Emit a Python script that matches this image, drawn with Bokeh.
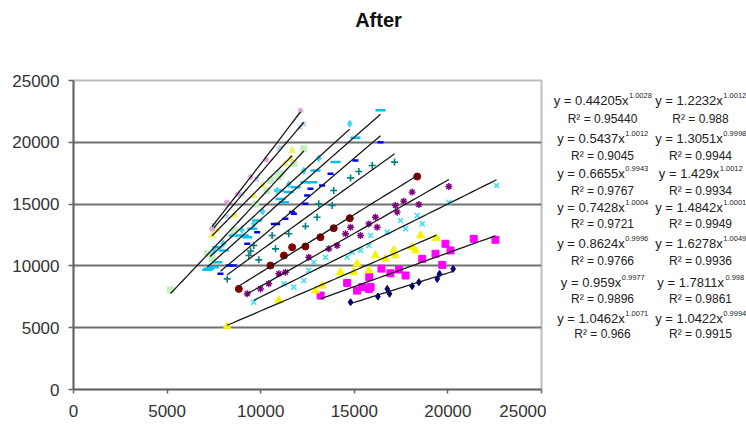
import numpy as np
from bokeh.plotting import figure
from bokeh.models import FixedTicker, Range1d
from bokeh.layouts import row, column
from bokeh.core.properties import value
from bokeh.embed import file_html
from bokeh.resources import INLINE

# ---------------- data ----------------
axis_ticks = [0, 5000, 10000, 15000, 20000, 25000]
grid_ticks = [5000, 10000, 15000, 20000]

s1_x = [14800, 16260, 16760, 16880, 18090, 18450, 19430, 19550, 20280]
s1_y = [7060, 7520, 8140, 7740, 8360, 8680, 8950, 9360, 9760]

s2_x = [13200, 14620, 15150, 15420, 15780, 15870, 15800, 16450, 16930, 17380, 17740, 18630, 19340, 19700, 19870, 20140, 21380, 22540]
s2_y = [7600, 8620, 8000, 8280, 8140, 8300, 9090, 9780, 9400, 9700, 9220, 10570, 10980, 10080, 11790, 11250, 12190, 12110]

s3_x = [8210, 10970, 12930, 13280, 14260, 14970, 15150, 15780, 16130, 16670, 17200, 17110, 18090, 18270, 18540, 19380]
s3_y = [5100, 7200, 8000, 8400, 9490, 9490, 10170, 9630, 10840, 10570, 10840, 11250, 11510, 11250, 12460, 12250]

s4_x = [9630, 11240, 11770, 12300, 12570, 12840, 13460, 14620, 14890, 15330, 15780, 15870, 16760, 17470, 17740, 18360, 18630, 20050, 22600]
s4_y = [7060, 8550, 8280, 8820, 9630, 10300, 10700, 10700, 11110, 11250, 11650, 12460, 12730, 13670, 13000, 14080, 13400, 15150, 16500]

s5_x = [9280, 9990, 10430, 10970, 11320, 12570, 13640, 14080, 14530, 14800, 15330, 15780, 16130, 16220, 17200, 17290, 17640, 18090, 18450, 20050]
s5_y = [7740, 8140, 8550, 9360, 9490, 10700, 11380, 11650, 12600, 13130, 12460, 13400, 13940, 13130, 14890, 14350, 15240, 15970, 14970, 16420]

s6_x = [8830, 10520, 11240, 11680, 12390, 13190, 13900, 14760, 18360]
s6_y = [8140, 10030, 10840, 11510, 11570, 12320, 13050, 13860, 17230]

s7_x = [8210, 9370, 9460, 9630, 9900, 10610, 10790, 11500, 12390, 13010, 13100, 13820, 13900, 14800, 15240, 15960, 17150]
s7_y = [8950, 10840, 11200, 11650, 10490, 12460, 11380, 12600, 13200, 13940, 15020, 14890, 16100, 17120, 17640, 18120, 18400]

s8_x = [7850, 8300, 8560, 9280, 9810, 10700, 10880, 11320, 11680, 11770, 12390, 12480, 12660, 13280, 13730, 15060, 16400]
s8_y = [9360, 10030, 10030, 11790, 12730, 13400, 13400, 13810, 14370, 14210, 15020, 15700, 16240, 16500, 17450, 18530, 20000]

s9_x = [7140, 7230, 7500, 7680, 7680, 8030, 8560, 9100, 9280, 9550, 9810, 10970, 11060, 11240, 11500, 11860, 12390, 12750, 12930, 14000, 15060, 16400]
s9_y = [9680, 9760, 9900, 10300, 11510, 11250, 12460, 12460, 12320, 13000, 13670, 16100, 15420, 15150, 15970, 16370, 16770, 16770, 17720, 18400, 20360, 22600]

s10_x = [7300, 7500, 8000, 8560, 9000, 9630, 10100, 10880, 11500, 12300, 13100, 14760]
s10_y = [10900, 11250, 11800, 12600, 12900, 13400, 14400, 16100, 16600, 17700, 18700, 21500]

s11_x = [5180, 7140, 7400, 8600, 9720, 10340, 10520, 10970, 11060, 11770, 12300]
s11_y = [8060, 10980, 10600, 12900, 15000, 16100, 16900, 17200, 17450, 18260, 19470]

s12_x = [7400, 7600, 8600, 9630, 10100, 11320, 11600, 11680]
s12_y = [12460, 12900, 14100, 15700, 16500, 18260, 18660, 19340]

s13_x = [7500, 8200, 9000, 9800, 10970, 11060, 12100, 12300]
s13_y = [13300, 14000, 15800, 17000, 19470, 19600, 21200, 21500]

s14_x = [7400, 8200, 8800, 9460, 10300, 12130]
s14_y = [13000, 15150, 15800, 17200, 18600, 22570]

series_x = [s1_x, s2_x, s3_x, s4_x, s5_x, s6_x, s7_x, s8_x, s9_x, s10_x, s11_x, s12_x, s13_x, s14_x]
series_y = [s1_y, s2_y, s3_y, s4_y, s5_y, s6_y, s7_y, s8_y, s9_y, s10_y, s11_y, s12_y, s13_y, s14_y]

# trendline labels (two columns, 7 rows)
eq_coef_c1 = ["0.44205", "0.5437", "0.6655", "0.7428", "0.8624", "0.959", "1.0462"]
eq_exp_c1 = ["1.0028", "1.0012", "0.9943", "1.0004", "0.9996", "0.9977", "1.0071"]
r2_c1 = ["0.95440", "0.9045", "0.9767", "0.9721", "0.9766", "0.9896", "0.966"]
eq_coef_c2 = ["1.2232", "1.3051", "1.429", "1.4842", "1.6278", "1.7811", "1.0422"]
eq_exp_c2 = ["1.0012", "0.9998", "1.0012", "1.0001", "1.0049", "0.998", "0.9994"]
r2_c2 = ["0.988", "0.9944", "0.9934", "0.9949", "0.9936", "0.9861", "0.9915"]

# ---------------- styles ----------------
markers = ["diamond", "square", "triangle", "x", "asterisk", "circle", "cross", "dash", "dash",
           "diamond", "square", "triangle", "x", "asterisk"]
colors = ["#000080", "#FF00FF", "#F5F500", "#40E0F0", "#800080", "#800000", "#008080", "#0000FF", "#00C0F0",
          "#40D8F8", "#C0F0C0", "#F0F070", "#A8C8F0", "#E0A0D8"]
sizes = [7, 7, 8, 7, 7, 7, 7, 6, 10, 7, 6, 7, 6, 6]
lwidths = [1, 1, 1, 1.6, 1.4, 1, 1.6, 2.5, 2.5, 1, 1, 1, 1.4, 1.3]

FONT = "Liberation Sans"
TXT = "#222222"

W, H = 746, 425
MAIN_W = 546
TITLE_H = 50
FR_L, FR_R, FR_T, FR_B = 73, 541, 80, 389   # plot frame on the page


def blank(width, height, x0, x1, y0, y1):
    f = figure(width=width, height=height, output_backend="svg", toolbar_location=None,
               x_range=Range1d(x0, x1), y_range=Range1d(y1, y0),
               x_axis_type=None, y_axis_type=None,
               min_border_left=0, min_border_right=0, min_border_top=0, min_border_bottom=0)
    f.outline_line_color = None
    f.xgrid.grid_line_color = None
    f.ygrid.grid_line_color = None
    f.background_fill_color = "white"
    f.border_fill_color = "white"
    return f


# ---- title strip (full width) ----
pt = blank(W, TITLE_H, 0, W, 0, TITLE_H)
pt.text(x=[378], y=[19], text=["After"], text_font=value(FONT), text_font_size=value("20px"),
        text_font_style="bold", text_align="center", text_baseline="middle", text_color="#111111")

# ---- main chart ----
p = figure(width=MAIN_W, height=H - TITLE_H, output_backend="svg", toolbar_location=None,
           x_range=Range1d(0, 25000), y_range=Range1d(0, 25000),
           min_border_left=FR_L, min_border_right=MAIN_W - FR_R, min_border_top=FR_T - TITLE_H,
           min_border_bottom=H - FR_B)
p.background_fill_color = "white"
p.border_fill_color = "white"
p.outline_line_color = "#bdbdbd"
p.outline_line_width = 2

for ax in (p.xaxis[0], p.yaxis[0]):
    ax.ticker = FixedTicker(ticks=axis_ticks)
    ax.minor_tick_line_color = None
    ax.major_tick_in = 0
    ax.major_tick_out = 5
    ax.axis_line_color = "#666666"
    ax.axis_line_width = 2
    ax.major_tick_line_color = "#666666"
    ax.major_tick_line_width = 1.5
    ax.major_label_text_font = FONT
    ax.major_label_text_font_size = "17px"
    ax.major_label_text_color = "#333333"
p.yaxis.major_label_standoff = 9
p.xaxis.major_tick_out = 4
p.xaxis.major_label_standoff = 11

p.xgrid.grid_line_color = None
p.ygrid.ticker = FixedTicker(ticks=grid_ticks)
p.ygrid.grid_line_color = "#707070"
p.ygrid.grid_line_width = 2

for xs, ys, m, c, s, lw in zip(series_x, series_y, markers, colors, sizes, lwidths):
    p.scatter(xs, ys, marker=m, size=s, fill_color=c, line_color=c, line_width=lw)

# power trendlines fitted from each series
for xs, ys in zip(series_x, series_y):
    lx = np.log(np.array(xs, dtype=float))
    ly = np.log(np.array(ys, dtype=float))
    b, lna = np.polyfit(lx, ly, 1)
    xx = np.linspace(min(xs), max(xs), 40)
    p.line(xx, np.exp(lna) * xx ** b, line_color="#1a1a1a", line_width=1.3)

# ---- equation panel (its frame is aligned with the main frame vertically) ----
pl = blank(W - MAIN_W, H - TITLE_H, MAIN_W, W, FR_T, FR_B)

AW = {'y': 500, ' ': 278, '=': 584, '.': 278, 'x': 500, 'R': 722, '\u00b2': 333}


def tw(s, size):
    return sum(AW.get(ch, 556) for ch in s) * size / 1000.0


eq_y = [100, 138, 173, 207, 243, 282, 318]
r2_y = [118, 155, 190, 223, 260, 298, 333]
col_cx = [602, 700]
MAIN = 13
SUP = 7.5

m_x, m_y, m_t = [], [], []
s_x, s_y, s_t = [], [], []
r_x, r_y, r_t = [], [], []
for ci, (coefs, exps, r2s) in enumerate([(eq_coef_c1, eq_exp_c1, r2_c1), (eq_coef_c2, eq_exp_c2, r2_c2)]):
    cx = col_cx[ci]
    for ri in range(7):
        main = "y = %sx" % coefs[ri]
        w1 = tw(main, MAIN)
        w2 = tw(exps[ri], SUP)
        x0 = cx - (w1 + w2) / 2
        m_x.append(x0); m_y.append(eq_y[ri]); m_t.append(main)
        s_x.append(x0 + w1 + 0.5); s_y.append(eq_y[ri] - 5); s_t.append(exps[ri])
        r_x.append(cx); r_y.append(r2_y[ri]); r_t.append("R\u00b2 = %s" % r2s[ri])

pl.text(x=m_x, y=m_y, text=m_t, text_font=value(FONT), text_font_size=value("%.1fpx" % MAIN),
        text_align="left", text_baseline="middle", text_color=TXT)
pl.text(x=s_x, y=s_y, text=s_t, text_font=value(FONT), text_font_size=value("%.1fpx" % SUP),
        text_align="left", text_baseline="middle", text_color=TXT)
pl.text(x=r_x, y=r_y, text=r_t, text_font=value(FONT), text_font_size=value("12px"),
        text_align="center", text_baseline="middle", text_color=TXT)

layout = column(pt, row(p, pl, spacing=0), spacing=0)

open("out.html", "w").write(file_html(layout, INLINE))
